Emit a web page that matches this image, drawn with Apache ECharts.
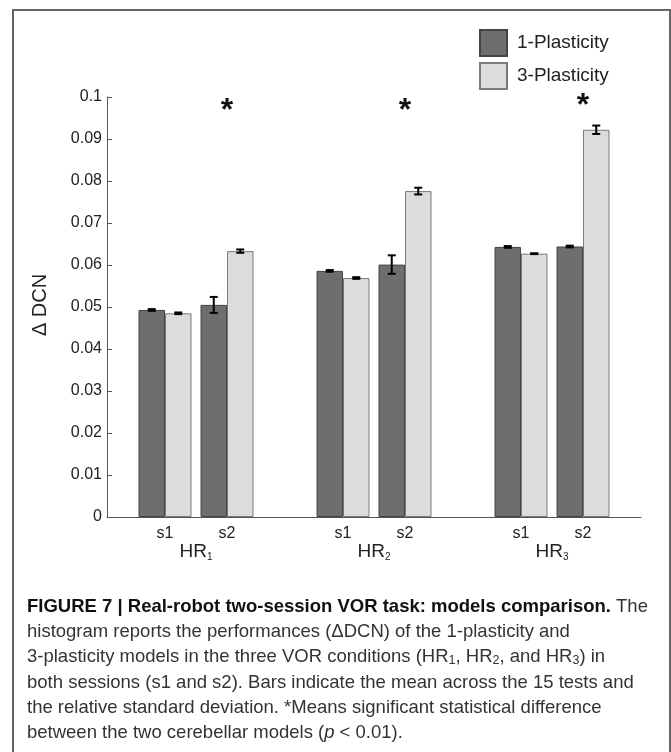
<!DOCTYPE html>
<html>
<head>
<meta charset="utf-8">
<script src="https://cdn.jsdelivr.net/npm/echarts@6/dist/echarts.min.js"></script>
<style>
  html, body { margin: 0; padding: 0; background: #fff; }
  #chart { width: 671px; height: 752px; }
</style>
</head>
<body>
<div id="chart"></div>
<script>
  // categories
  const conditions = ['HR1', 'HR2', 'HR3']
  const sessions = ['s1', 's2']
  const modelNames = ['1-Plasticity', '3-Plasticity']

  // mean delta DCN per condition
  const onePlastS1 = [0.0493, 0.0586, 0.0643]
  const threePlastS1 = [0.0485, 0.0569, 0.0627]
  const onePlastS2 = [0.0505, 0.0601, 0.0644]
  const threePlastS2 = [0.0633, 0.0776, 0.0922]

  // standard deviation
  const onePlastS1Sd = [0.0002, 0.0002, 0.0002]
  const threePlastS1Sd = [0.0002, 0.0002, 0.0001]
  const onePlastS2Sd = [0.0019, 0.0022, 0.0002]
  const threePlastS2Sd = [0.0004, 0.0008, 0.0010]

  // significance marks (s2 of each condition)
  const significant = [true, true, true]
  const starLevel = [0.0967, 0.0967, 0.0979]

  // y axis ticks
  const yMin = 0
  const yMax = 0.1
  const yStep = 0.01

  const FONT = 'Liberation Sans, Arial, sans-serif'
  const BAR_W = 26.5
  const PAIR_GAP = 9
  const DARK = '#6e6e6e'
  const LIGHT = '#dcdcdc'

  // bar centers relative to category center: dark s1, light s1, dark s2, light s2
  const left = -(4 * BAR_W + PAIR_GAP) / 2
  const slotOffset = [
    left + BAR_W / 2,
    left + BAR_W * 1.5,
    left + BAR_W * 2.5 + PAIR_GAP,
    left + BAR_W * 3.5 + PAIR_GAP
  ]
  const s2Center = left + BAR_W * 2 + PAIR_GAP + BAR_W

  const errData = []
  ;[[onePlastS1, onePlastS1Sd], [threePlastS1, threePlastS1Sd],
    [onePlastS2, onePlastS2Sd], [threePlastS2, threePlastS2Sd]].forEach((pair, slot) => {
    pair[0].forEach((v, i) => errData.push([i, v, pair[1][i], slot]))
  })

  const starData = []
  significant.forEach((s, i) => { if (s) starData.push([i, starLevel[i]]) })

  function barSeries(name, data, color, border) {
    return {
      name: name,
      type: 'bar',
      data: data,
      barWidth: BAR_W,
      barGap: '0%',
      itemStyle: { color: color, borderColor: border, borderWidth: 1 },
      emphasis: { disabled: true },
      z: 2
    }
  }

  const chart = echarts.init(document.getElementById('chart'), null, { renderer: 'canvas' })

  const CAP_SIZE = 18.5
  const captionRich = {
    b: { fontWeight: 'bold', fontSize: CAP_SIZE, fill: '#111', fontFamily: FONT },
    sub: { fontSize: 12.5, fill: '#333', fontFamily: FONT, verticalAlign: 'bottom', lineHeight: 13 },
    i: { fontStyle: 'italic', fontSize: CAP_SIZE, fill: '#333', fontFamily: FONT }
  }
  const captionLines = [
    '{b|FIGURE 7 | Real-robot two-session VOR task: models comparison.} The',
    'histogram reports the performances (\u0394DCN) of the 1-plasticity and',
    '3-plasticity models in the three VOR conditions (HR{sub|1}, HR{sub|2}, and HR{sub|3}) in',
    'both sessions (s1 and s2). Bars indicate the mean across the 15 tests and',
    'the relative standard deviation. *Means significant statistical difference',
    'between the two cerebellar models ({i|p} < 0.01).'
  ]

  const graphics = [
    {
      type: 'rect',
      shape: { x: 13, y: 10, width: 657, height: 770 },
      style: { fill: 'none', stroke: '#666', lineWidth: 2 },
      silent: true
    },
    {
      type: 'text',
      x: 40, y: 305,
      rotation: Math.PI / 2,
      style: {
        text: '\u0394 DCN', fontSize: 20, fontFamily: FONT, fill: '#222',
        align: 'center', verticalAlign: 'middle'
      }
    }
  ]
  captionLines.forEach((line, i) => {
    graphics.push({
      type: 'text',
      x: 27, y: 607 + i * 25.2,
      style: {
        text: line, rich: captionRich, fontSize: CAP_SIZE, fontFamily: FONT, fill: '#333',
        align: 'left', verticalAlign: 'middle'
      }
    })
  })

  const option = {
    animation: false,
    textStyle: { fontFamily: FONT },
    grid: { left: 107, right: 30, top: 97, bottom: 235 },
    legend: {
      data: modelNames,
      orient: 'vertical',
      left: 479,
      top: 29,
      padding: 0,
      itemWidth: 27,
      itemHeight: 26,
      itemGap: 5,
      icon: 'rect',
      selectedMode: false,
      textStyle: { fontSize: 19, color: '#222', padding: [0, 0, 0, 5] }
    },
    xAxis: {
      type: 'category',
      data: conditions,
      axisLine: { lineStyle: { color: '#555', width: 1 } },
      axisTick: { alignWithLabel: true, inside: true, length: 4, lineStyle: { color: '#555' } },
      axisLabel: {
        margin: 9,
        formatter: function (v) {
          return '{s|' + sessions[0] + '}{g|}{s|' + sessions[1] + '}\n{hr|' + v.slice(0, 2) + '}{sub|' + v.slice(2) + '}'
        },
        rich: {
          s: { width: 53, align: 'center', fontSize: 16, color: '#222', lineHeight: 16 },
          g: { width: PAIR_GAP },
          hr: { fontSize: 19, color: '#222', lineHeight: 20 },
          sub: { fontSize: 10, color: '#222', lineHeight: 10, verticalAlign: 'bottom' }
        }
      }
    },
    yAxis: {
      type: 'value',
      min: yMin,
      max: yMax,
      interval: yStep,
      axisLine: { show: true, lineStyle: { color: '#555', width: 1 } },
      axisTick: { show: true, inside: true, length: 5, lineStyle: { color: '#555' } },
      splitLine: { show: false },
      axisLabel: {
        fontSize: 16,
        color: '#222',
        margin: 5,
        formatter: v => String(+v.toFixed(2))
      }
    },
    series: [
      barSeries(modelNames[0], onePlastS1, DARK, '#444'),
      barSeries(modelNames[1], threePlastS1, LIGHT, '#7a7a7a'),
      {
        name: 'gap',
        type: 'bar',
        data: [0, 0, 0],
        barWidth: PAIR_GAP,
        barGap: '0%',
        silent: true,
        itemStyle: { color: 'transparent', borderWidth: 0 }
      },
      barSeries(modelNames[0], onePlastS2, DARK, '#444'),
      barSeries(modelNames[1], threePlastS2, LIGHT, '#7a7a7a'),
      {
        // error bars
        type: 'custom',
        data: errData,
        z: 5,
        silent: true,
        renderItem: function (params, api) {
          const cat = api.value(0)
          const mean = api.value(1)
          const sd = api.value(2)
          const x = api.coord([cat, mean])[0] + slotOffset[api.value(3)]
          const yTop = api.coord([cat, mean + sd])[1]
          const yBot = api.coord([cat, mean - sd])[1]
          const cap = 4
          const st = { stroke: '#000', lineWidth: 2 }
          return {
            type: 'group',
            children: [
              { type: 'line', shape: { x1: x, y1: yTop, x2: x, y2: yBot }, style: st },
              { type: 'line', shape: { x1: x - cap, y1: yTop, x2: x + cap, y2: yTop }, style: st },
              { type: 'line', shape: { x1: x - cap, y1: yBot, x2: x + cap, y2: yBot }, style: st }
            ]
          }
        }
      },
      {
        // significance stars
        type: 'custom',
        data: starData,
        silent: true,
        renderItem: function (params, api) {
          const p = api.coord([api.value(0), api.value(1)])
          return {
            type: 'text',
            x: p[0] + s2Center,
            y: p[1],
            style: {
              text: '*', fontSize: 32, fontWeight: 'bold', fontFamily: FONT, fill: '#111',
              align: 'center', verticalAlign: 'middle'
            }
          }
        }
      }
    ],
    graphic: graphics
  }

  chart.setOption(option)
</script>
</body>
</html>
